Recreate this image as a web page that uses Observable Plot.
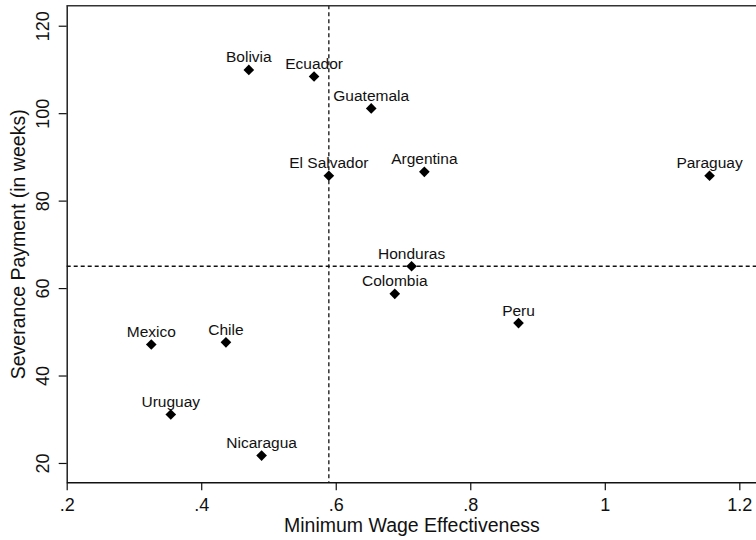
<!DOCTYPE html>
<html>
<head>
<meta charset="utf-8">
<script src="https://cdn.jsdelivr.net/npm/d3@7"></script>
<script src="https://cdn.jsdelivr.net/npm/@observablehq/plot@0.6"></script>
<style>
  html, body { margin: 0; padding: 0; background: #fff; }
  #chart svg { display: block; font-family: "Liberation Sans", Arial, sans-serif; }
</style>
</head>
<body>
<div id="chart"></div>
<script>
const countries = ["Bolivia", "Ecuador", "Guatemala", "El Salvador", "Argentina", "Paraguay", "Honduras", "Colombia", "Peru", "Mexico", "Chile", "Uruguay", "Nicaragua"];
const effectiveness = [0.470, 0.567, 0.652, 0.589, 0.731, 1.155, 0.712, 0.687, 0.871, 0.325, 0.436, 0.354, 0.489];
const severance = [110.0, 108.5, 101.2, 85.8, 86.7, 85.8, 65.1, 58.8, 52.1, 47.2, 47.7, 31.2, 21.8];
const xTicks = [0.2, 0.4, 0.6, 0.8, 1, 1.2];
const yTicks = [20, 40, 60, 80, 100, 120];
const xDomain = [0.2, 1.2248];
const yDomain = [15.58, 124.67];

const data = countries.map((c, i) => ({country: c, x: effectiveness[i], y: severance[i]}));
const medX = d3.median(effectiveness);
const medY = d3.median(severance);
const fmt = d => String(d).replace(/^0\./, ".");

const ink = "#111";
const chart = Plot.plot({
  width: 756,
  height: 540,
  marginLeft: 66.7,
  marginRight: 0,
  marginTop: 5.3,
  marginBottom: 57.7,
  style: {fontFamily: "'Liberation Sans', Arial, sans-serif", background: "#fff", color: ink},
  x: {domain: xDomain},
  y: {domain: yDomain},
  marks: [
    Plot.ruleX([medX], {stroke: ink, strokeWidth: 1.3, strokeDasharray: "4,3"}),
    Plot.ruleY([medY], {stroke: ink, strokeWidth: 1.3, strokeDasharray: "4,3"}),
    Plot.ruleX([xDomain[0]], {stroke: ink, strokeWidth: 1.4}),
    Plot.ruleY([yDomain[0]], {stroke: ink, strokeWidth: 1.4}),
    Plot.ruleY([yDomain[1]], {stroke: "#333", strokeWidth: 1.4}),
    Plot.axisX({ticks: xTicks, tickFormat: fmt, tickSize: 8, tickPadding: 7, fontSize: 18, label: null, stroke: ink, strokeWidth: 1.2}),
    Plot.axisY({ticks: yTicks, tickFormat: () => "", tickSize: 8, label: null, stroke: ink, strokeWidth: 1.2}),
    Plot.text(yTicks, {y: d => d, text: d => String(d), frameAnchor: "left", dx: -23.5, rotate: -90, textAnchor: "middle", lineAnchor: "middle", fontSize: 18, fill: ink}),
    Plot.text(["Severance Payment (in weeks)"], {frameAnchor: "left", dx: -48, rotate: -90, textAnchor: "middle", lineAnchor: "middle", fontSize: 19.5, fill: ink}),
    Plot.text(["Minimum Wage Effectiveness"], {frameAnchor: "bottom", dy: 49.4, textAnchor: "middle", lineAnchor: "bottom", fontSize: 19.5, fill: ink}),
    Plot.dot(data, {x: "x", y: "y", symbol: "diamond2", r: 4.8, fill: "#000", stroke: "none"}),
    Plot.text(data, {x: "x", y: "y", text: "country", dy: -7.6, lineAnchor: "bottom", textAnchor: "middle", fontSize: 15.5, fill: ink})
  ]
});
document.getElementById("chart").appendChild(chart);
</script>
</body>
</html>
